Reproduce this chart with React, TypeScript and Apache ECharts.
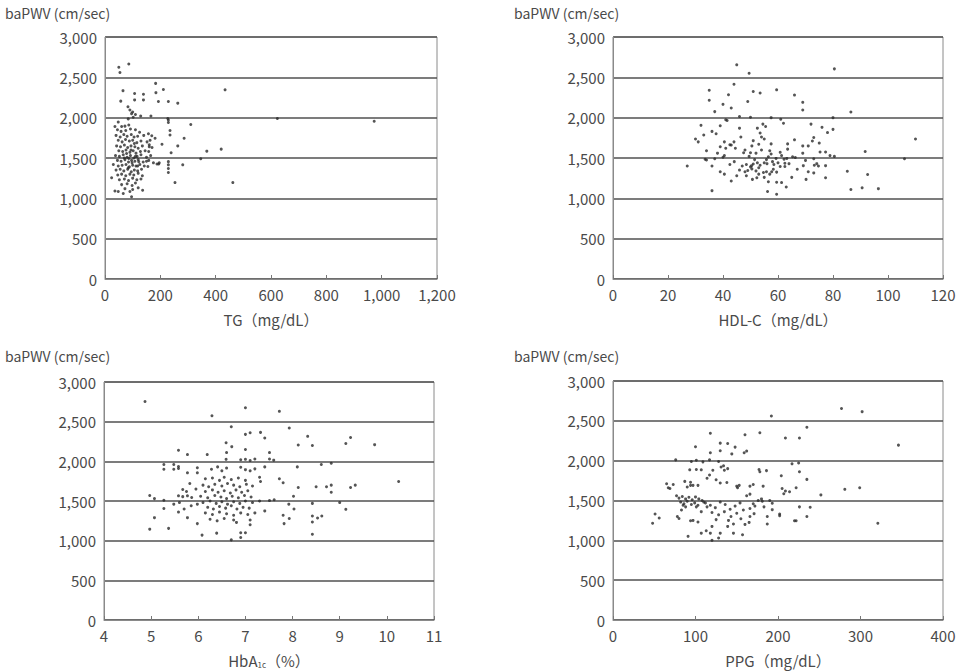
import React, { useEffect, useRef } from "react";
import * as echarts from "echarts";

const yTicks = [0, 500, 1000, 1500, 2000, 2500, 3000];

const tgData: number[][] = [
  [50,2625],[54,2560],[86,2665],
  [183,2425],[65,2335],[211,2350],[184,2310],[107,2300],[139,2290],[434,2345],
  [57,2205],[107,2220],[139,2220],[193,2200],[229,2200],[263,2180],
  [83,2135],[90,2095],[100,2070],[96,2050],[110,2040],
  [129,2020],[166,2020],[102,2005],[84,1985],[227,1990],[229,1970],[229,1940],[623,1990],[973,1955],[310,1915],
  [48,1945],[36,1890],[60,1890],[72,1895],[86,1910],
  [235,1840],[235,1785],[157,1800],[169,1775],[181,1745],[286,1745],[206,1670],[263,1650],[239,1565],[368,1585],[420,1610],[346,1490],[194,1425],[281,1415],[229,1455],[229,1415],[229,1370],[229,1320],[253,1195],[462,1195],
  [24,1255],[36,1090],[48,1085],[66,1060],[90,1085],[96,1020],[136,1100],
  [45,1850],[58,1830],[75,1840],[92,1860],[110,1850],[125,1820],
  [40,1780],[55,1760],[68,1790],[80,1770],[95,1790],[105,1760],[118,1770],[140,1780],
  [48,1720],[62,1700],[74,1730],[88,1710],[100,1720],[115,1690],[130,1710],[152,1700],
  [42,1650],[56,1640],[70,1660],[82,1630],[94,1650],[108,1640],[120,1620],[135,1650],[160,1640],
  [50,1590],[64,1580],[76,1600],[90,1570],[102,1590],[112,1560],[128,1580],[145,1590],
  [38,1530],[52,1520],[66,1540],[80,1510],[92,1530],[104,1500],[116,1520],[130,1540],[150,1510],[165,1530],
  [45,1470],[58,1460],[72,1480],[85,1450],[96,1470],[108,1460],[120,1480],[138,1450],[158,1470],
  [30,1420],[48,1400],[62,1410],[76,1420],[88,1390],[100,1410],[112,1400],[126,1420],[142,1400],[175,1440],
  [40,1350],[55,1360],[68,1340],[82,1360],[95,1330],[106,1350],[118,1340],[132,1360],
  [46,1290],[60,1300],[75,1280],[90,1300],[104,1290],[120,1310],[135,1280],
  [52,1230],[70,1240],[85,1220],[100,1250],[115,1230],[130,1240],
  [60,1170],[80,1180],[98,1160],[110,1190],
  [72,1120],[100,1110],[120,1130],
  [163,1720],[160,1665],[170,1630],[158,1580],[150,1460],[155,1395],[188,1425],[196,1440],
  [78,1555],[86,1495],[98,1440],[110,1520],[122,1455],[70,1500],[94,1600],[106,1680],[84,1380],[118,1400],
];

const hdlData: number[][] = [
  [45,2655],[49.5,2550],[80.5,2605],[44,2415],[35,2340],[51,2325],[53.5,2305],[59.5,2345],[66,2280],[35,2215],[42,2285],[49,2200],[40,2165],[43,2120],[69,2190],[69,2095],[37,2075],[86.5,2070],
  [41,1975],[41.5,1965],[46,2015],[50,2005],[57.5,2000],[61,1980],[62,1930],[80,2000],[32,1905],[39,1900],[46,1870],[54.5,1920],[55.5,1890],[52.5,1870],[72,1920],[76,1880],[80,1855],[78,1815],[36,1830],[37.5,1800],[33,1785],[30,1735],
  [53.5,1810],[54,1760],[55,1735],[51,1715],[50.5,1650],[53,1670],[57.5,1675],[63.5,1675],[66,1725],[63.5,1610],[73,1755],[72.5,1710],[71,1650],[69,1650],[75,1685],[110,1735],
  [34,1590],[39,1640],[40.5,1700],[41,1620],[43,1660],[44.5,1620],[42.5,1665],
  [47.5,1565],[50,1565],[52,1560],[40.5,1530],[40,1510],[33.5,1485],[34,1475],[37,1490],
  [27,1400],[39,1330],[40.5,1300],[43,1215],[45,1280],[36,1095],
  [48.5,1420],[47,1400],[51,1425],[49,1345],[50.5,1365],[48,1330],[52,1340],[53.5,1410],[52.5,1440],[55,1440],[50,1390],[53,1380],
  [57,1590],[57.5,1550],[56.5,1515],[55.8,1480],[58,1455],[59.3,1495],[60.8,1570],[61.3,1530],[62.2,1485],[62.5,1435],[60.8,1395],[62.5,1395],[58.3,1360],[59.5,1325],[57.7,1330],[57,1300],[55.8,1330],[54.7,1320],[56.5,1205],[59.5,1200],[56.2,1085],[59.5,1050],[63,1140],[61.3,1195],[65,1260],[65.3,1515],[63.2,1495],[66.3,1505],[69,1560],[69.2,1405],[70.2,1235],[73,1490],[73.2,1410],[74.1,1430],[74.7,1400],[75.3,1575],[77.3,1575],[78.9,1530],[80.5,1520],[77.3,1405],[73,1315],[77.3,1255],[85.2,1335],[86.5,1110],[90.6,1130],[91.7,1580],[92.6,1295],[96.5,1120],[106,1490],[50.7,1235],[52.3,1255],[50.4,1405],[44.1,1455],[42.5,1420],
  [38,1560],[44,1700],[46.5,1760],[48,1600],[49.5,1520],[51.5,1480],[54,1600],[56,1430],[58.5,1420],[46,1350],[48.5,1280],[53,1300],[55,1260],[60,1440],[64,1430],[67,1360],[70,1470],[71,1330],[36,1400],[31,1700],
];

const hba1cData: number[][] = [
  [4.87,2755],[6.29,2575],[7.0,2675],[7.72,2630],[6.7,2435],[7.93,2420],[7.0,2340],[7.1,2360],[7.32,2365],[7.41,2295],[6.59,2235],[6.71,2185],[7.0,2150],[7.51,2110],[6.6,2110],[5.58,2140],[5.77,2085],[6.19,2085],[8.12,2205],[8.32,2315],[8.42,2200],[9.13,2225],[9.23,2300],[9.74,2210],
  [6.59,2025],[6.9,2020],[7.0,2025],[7.1,2010],[7.2,2030],[7.51,2030],[7.6,2015],[8.1,1930],[8.61,1960],[8.82,1975],
  [5.27,1960],[5.27,1900],[5.48,1960],[5.48,1900],[5.58,1935],[5.58,1910],[5.77,1855],[5.98,1920],[5.98,1855],[6.28,1900],[6.41,1930],[6.5,1880],[6.6,1915],[6.9,1925],[7.0,1895],[7.1,1880],[7.2,1905],[7.41,1930],
  [7.3,1800],[7.32,1745],[7.72,1780],[7.8,1730],[8.12,1670],[8.5,1680],[8.72,1680],[8.82,1700],[8.82,1610],[9.23,1670],[9.33,1700],[10.25,1745],
  [4.97,1570],[5.07,1530],[5.27,1510],[5.27,1405],[5.48,1460],[5.58,1565],[5.67,1555],[5.77,1565],[5.86,1545],[5.67,1645],[5.58,1360],[5.07,1290],[4.97,1145],[5.37,1155],[5.77,1290],[5.98,1460],[5.98,1215],[6.08,1070],[6.39,1095],[6.7,1010],[6.9,1040],[6.9,1100],[7.0,1100],[6.81,1230],[7.1,1260],[7.1,1200],
  [7.3,1500],[7.41,1375],[7.51,1505],[7.61,1515],[7.2,1350],[7.8,1320],[7.82,1215],[7.93,1280],[7.92,1460],[8.02,1560],[8.03,1400],[8.42,1470],[8.42,1310],[8.42,1235],[8.42,1080],[8.53,1285],[8.62,1310],[9.0,1480],[9.13,1395],
  [6.15,1780],[6.3,1790],[6.45,1760],[6.55,1800],[6.7,1770],[6.85,1790],[7.0,1760],
  [6.1,1700],[6.22,1680],[6.35,1710],[6.5,1690],[6.62,1720],[6.75,1700],[6.88,1680],[7.02,1710],[7.15,1690],
  [6.15,1620],[6.3,1640],[6.42,1610],[6.55,1630],[6.68,1600],[6.8,1640],[6.92,1610],[7.05,1630],
  [6.05,1560],[6.2,1540],[6.35,1570],[6.48,1550],[6.6,1530],[6.72,1560],[6.85,1540],[6.98,1570],[7.12,1550],
  [6.1,1480],[6.25,1500],[6.38,1470],[6.5,1490],[6.62,1460],[6.75,1490],[6.88,1470],[7.0,1500],[7.15,1480],
  [6.2,1420],[6.32,1400],[6.45,1430],[6.58,1410],[6.7,1440],[6.82,1400],[6.95,1420],[7.08,1410],
  [6.15,1350],[6.3,1330],[6.45,1360],[6.6,1340],[6.75,1320],[6.9,1350],[7.05,1330],
  [6.25,1270],[6.4,1250],[6.55,1280],[6.75,1260],
  [5.82,1720],[5.95,1650],[5.75,1620],[5.6,1480],[5.85,1440],[5.7,1400],
];

const ppgData: number[][] = [
  [277,2655],[302,2615],[192,2560],[235,2420],[346,2195],[118,2345],[160,2325],[178,2350],[209,2285],[226,2285],[130,2220],[139,2215],[100,2175],[118,2100],[130,2125],[144,2085],[148,2170],[159,2100],[162,2120],
  [76,2010],[95,1990],[101,2005],[109,1985],[117,2010],[128,1990],[134,1935],[139,1900],[93,1885],[101,1890],[107,1885],[121,1880],[131,1920],[135,1880],[177,1890],[178,1860],[186,1875],[217,1960],[225,1970],[226,1860],[235,1765],[204,1810],[117,1820],[114,1780],
  [87,1740],[94,1730],[90,1670],[65,1710],[67,1660],[73,1700],[69,1650],[125,1760],[130,1720],[138,1725],[94,1690],[97,1690],[103,1690],[150,1680],[151,1660],[153,1690],[166,1680],[170,1700],[182,1680],[205,1650],[209,1620],[214,1610],[222,1660],[207,1585],[252,1570],[281,1640],[299,1660],
  [77,1560],[80,1530],[84,1550],[88,1520],[92,1540],[96,1510],[100,1545],[104,1520],[108,1500],[82,1480],[86,1460],[90,1490],[95,1450],[99,1470],[103,1440],[110,1480],
  [51,1330],[56,1280],[48,1215],[78,1300],[80,1275],[94,1245],[97,1250],[103,1230],[107,1090],[113,1120],[91,1050],[120,1175],[118,1090],[120,1000],[128,1030],[130,1090],[139,1175],[146,1205],[146,1090],[157,1070],[160,1200],[165,1225],[166,1300],[166,1400],[171,1335],[162,1560],[166,1580],[180,1520],[181,1490],[187,1300],[187,1205],[193,1385],[202,1330],[202,1310],[220,1245],[222,1245],[226,1420],[235,1300],[239,1415],[321,1215],[193,1465],
  [83,1380],[85,1440],[88,1420],[101,1420],[107,1360],[114,1420],
  [112,1470],[118,1440],[124,1410],[130,1480],[136,1450],[142,1390],[148,1430],[154,1470],[120,1350],[128,1320],[135,1360],[143,1300],[150,1340],[158,1380],[125,1260],[140,1250],[155,1270],[170,1460],[172,1430],[176,1500],[183,1420],[190,1500],
];

const panels = [
  { name: "TG（mg/dL）", min: 0, max: 1200, interval: 200, data: tgData, grid: { left: 105, top: 37, width: 332, height: 242 } },
  { name: "HDL-C（mg/dL）", min: 0, max: 120, interval: 20, data: hdlData, grid: { left: 613, top: 37, width: 330, height: 242 } },
  { name: "{a|HbA}{s|1c}{a|（%）}", min: 4, max: 11, interval: 1, data: hba1cData, grid: { left: 104, top: 382, width: 330, height: 238 } },
  { name: "PPG（mg/dL）", min: 0, max: 400, interval: 100, data: ppgData, grid: { left: 613, top: 381, width: 330, height: 239 } },
];

const yTitle = "baPWV (cm/sec)";
const FONT = "'Noto Sans CJK JP', 'Noto Sans', sans-serif";
const TEXT = "#4a4a4a";

export default function App() {
  const ref = useRef<HTMLDivElement>(null);
  useEffect(() => {
    if (!ref.current) return;
    const chart = echarts.init(ref.current, undefined, { renderer: "svg" });
    const fmt = (v: number) => v.toLocaleString("en-US");
    chart.setOption({
      animation: false,
      backgroundColor: "#ffffff",
      textStyle: { fontFamily: FONT },
      grid: panels.map((p) => ({ ...p.grid, show: true, borderColor: "#8a8a8a", borderWidth: 1, containLabel: false })),
      xAxis: panels.map((p, i) => ({
        type: "value",
        gridIndex: i,
        min: p.min,
        max: p.max,
        interval: p.interval,
        name: p.name,
        nameLocation: "middle",
        nameGap: 33,
        nameTextStyle: {
          color: TEXT,
          fontSize: 15,
          fontFamily: FONT,
          rich: {
            a: { color: TEXT, fontSize: 15, fontFamily: FONT },
            s: { color: TEXT, fontSize: 8, fontFamily: FONT, verticalAlign: "bottom", padding: [6, 0, 0, 0] },
          },
        },
        axisLine: { show: true, lineStyle: { color: "#8a8a8a", width: 1 } },
        axisTick: { show: true, inside: true, length: 4, lineStyle: { color: "#777" } },
        splitLine: { show: false },
        axisLabel: { color: TEXT, fontSize: 15, margin: 8, fontFamily: FONT, formatter: fmt },
      })),
      yAxis: panels.map((p, i) => ({
        type: "value",
        gridIndex: i,
        min: yTicks[0],
        max: yTicks[yTicks.length - 1],
        interval: 500,
        axisLine: { show: true, lineStyle: { color: "#8a8a8a", width: 1 } },
        axisTick: { show: false },
        splitLine: { show: true, lineStyle: { color: "#505050", width: 1.5 } },
        axisLabel: { color: TEXT, fontSize: 15, margin: 8, fontFamily: FONT, formatter: fmt },
      })),
      graphic: [
        { type: "text", left: 5, top: 6, style: { text: yTitle, fontSize: 14, fill: TEXT, fontFamily: FONT } },
        { type: "text", left: 514, top: 6, style: { text: yTitle, fontSize: 14, fill: TEXT, fontFamily: FONT } },
        { type: "text", left: 5, top: 349, style: { text: yTitle, fontSize: 14, fill: TEXT, fontFamily: FONT } },
        { type: "text", left: 514, top: 349, style: { text: yTitle, fontSize: 14, fill: TEXT, fontFamily: FONT } },
      ],
      series: panels.map((p, i) => ({
        type: "scatter",
        xAxisIndex: i,
        yAxisIndex: i,
        data: p.data,
        symbol: "circle",
        symbolSize: 3,
        itemStyle: { color: "#2a2a2a" },
        silent: true,
      })),
    });
    return () => chart.dispose();
  }, []);
  return <div ref={ref} style={{ position: "fixed", left: 0, top: 0, width: 959, height: 672, background: "#fff" }} />;
}
